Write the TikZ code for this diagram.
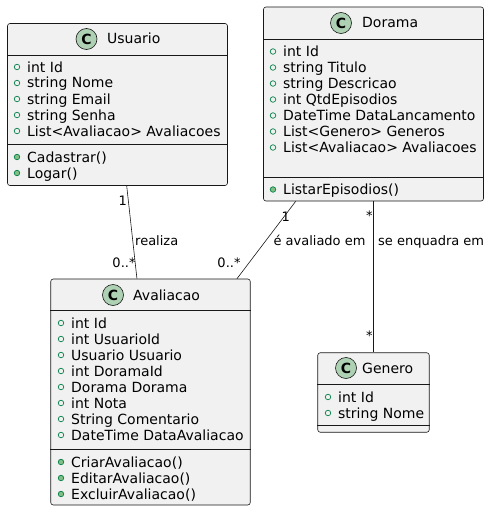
\documentclass[tikz,border=0pt]{standalone}
\usepackage{fontspec}
\setmainfont{DejaVu Sans}
\usetikzlibrary{calc}
\definecolor{boxfill}{HTML}{F1F1F1}
\definecolor{boxdraw}{HTML}{181818}
\definecolor{spotfill}{HTML}{ADD1B2}
\definecolor{visgreen}{HTML}{038048}
\definecolor{visfill}{HTML}{84BE84}
\tikzset{
 classbox/.style={rectangle, draw=boxdraw, fill=boxfill, rounded corners=2.5pt, line width=0.6pt, inner sep=0pt},
 spot/.style={circle, draw=boxdraw, fill=spotfill, line width=0.6pt, minimum size=21pt, inner sep=0pt, font=\fontsize{14}{14}\selectfont\bfseries},
 ctitle/.style={anchor=base west, inner sep=0pt, font=\fontsize{14}{16}\selectfont},
 mem/.style={anchor=base west, inner sep=0pt, font=\fontsize{14}{16}\selectfont},
 fieldmark/.style={circle, draw=visgreen, line width=0.7pt, minimum size=5.5pt, inner sep=0pt},
 methmark/.style={circle, draw=visgreen, fill=visfill, line width=0.7pt, minimum size=5.5pt, inner sep=0pt},
 lbl/.style={anchor=base, inner sep=0pt, font=\fontsize{13}{15}\selectfont},
 sepline/.style={draw=boxdraw, line width=0.6pt},
 assoc/.style={draw=boxdraw, line width=0.6pt}
}
\begin{document}
\begin{tikzpicture}[x=1pt,y=-1pt]
\useasboundingbox (0,0) rectangle (489,511);

% ---------- Usuario ----------
\node[classbox, minimum width=220pt, minimum height=162pt] (usuario) at (117.5,104.5) {};
\draw[sepline] (usuario.west |- 0,55) -- (usuario.east |- 0,55);
\draw[sepline] (usuario.west |- 0,144) -- (usuario.east |- 0,144);
\node[spot] (uspot) at (86.5,39) {C};
\node[ctitle] (utitle) at (107,44) {Usuario};
\foreach \t [count=\i from 0] in {int Id,string Nome,string Email,string Senha,List<Avaliacao> Avaliacoes}{
  \node[fieldmark] (ufm\i) at (17,67+16*\i) {};
  \node[mem] (uf\i) at (27,72+16*\i) {\t};
}
\foreach \t [count=\i from 0] in {Cadastrar(),Logar()}{
  \node[methmark] (umm\i) at (17,157+16*\i) {};
  \node[mem] (um\i) at (27,162+16*\i) {\t};
}

% ---------- Dorama ----------
\node[classbox, minimum width=220pt, minimum height=194pt] (dorama) at (373.5,104) {};
\draw[sepline] (dorama.west |- 0,39.3) -- (dorama.east |- 0,39.3);
\draw[sepline] (dorama.west |- 0,177.3) -- (dorama.east |- 0,177.3);
\node[spot] (dspot) at (341,23) {C};
\node[ctitle] (dtitle) at (362,28) {Dorama};
\foreach \t [count=\i from 0] in {int Id,string Titulo,string Descricao,int QtdEpisodios,DateTime DataLancamento,List<Genero> Generos,List<Avaliacao> Avaliacoes}{
  \node[fieldmark] (dfm\i) at (273,51.5+16*\i) {};
  \node[mem] (df\i) at (283,56.5+16*\i) {\t};
}
\node[methmark] (dmm0) at (273,189.5) {};
\node[mem] (dm0) at (283,194.5) {ListarEpisodios()};

% ---------- Avaliacao ----------
\node[classbox, minimum width=199.5pt, minimum height=226pt] (avaliacao) at (150.5,392) {};
\draw[sepline] (avaliacao.west |- 0,310) -- (avaliacao.east |- 0,310);
\draw[sepline] (avaliacao.west |- 0,449) -- (avaliacao.east |- 0,449);
\node[spot] (aspot) at (113,295) {C};
\node[ctitle] (atitle) at (133,300) {Avaliacao};
\foreach \t [count=\i from 0] in {int Id,int UsuarioId,Usuario Usuario,int DoramaId,Dorama Dorama,int Nota,String Comentario,DateTime DataAvaliacao}{
  \node[fieldmark] (afm\i) at (61,323+16*\i) {};
  \node[mem] (af\i) at (71,328+16*\i) {\t};
}
\foreach \t [count=\i from 0] in {CriarAvaliacao(),EditarAvaliacao(),ExcluirAvaliacao()}{
  \node[methmark] (amm\i) at (61,462+16*\i) {};
  \node[mem] (am\i) at (71,467+16*\i) {\t};
}

% ---------- Genero ----------
\node[classbox, minimum width=111.5pt, minimum height=79.5pt] (genero) at (373.5,392.5) {};
\draw[sepline] (genero.west |- 0,384) -- (genero.east |- 0,384);
\draw[sepline] (genero.west |- 0,425) -- (genero.east |- 0,425);
\node[spot] (gspot) at (346,368) {C};
\node[ctitle] (gtitle) at (362,373) {Genero};
\foreach \t [count=\i from 0] in {int Id,string Nome}{
  \node[fieldmark] (gfm\i) at (328,397+16*\i) {};
  \node[mem] (gf\i) at (338,402+16*\i) {\t};
}

% ---------- connectors ----------
\path (usuario.south west) ++(119.5,0) coordinate (uA);
\path (avaliacao.north west) ++(86.5,0) coordinate (aU);
\path (dorama.south west) ++(32.5,0) coordinate (dA);
\path (avaliacao.north west) ++(186.5,0) coordinate (aD);
\draw[assoc] (uA) -- (aU);
\draw[assoc] (dA) -- (aD);
\draw[assoc] (dorama.south) -- (genero.north);

% ---------- labels ----------
\node[lbl] (l1) at (122.7,205.5) {1};
\node[lbl, anchor=base west] (l2) at (135,245.7) {realiza};
\node[lbl] (l3) at (124,267.7) {0..*};
\node[lbl] (l4) at (229,267.7) {0..*};
\node[lbl] (l5) at (285.7,221.5) {1};
\node[lbl] (l6) at (319.5,245.7) {é avaliado em};
\node[lbl] (l7) at (369.3,220.5) {*};
\node[lbl, anchor=base west] (l8) at (378,245.7) {se enquadra em};
\node[lbl] (l9) at (369.3,340.5) {*};
\end{tikzpicture}
\end{document}
